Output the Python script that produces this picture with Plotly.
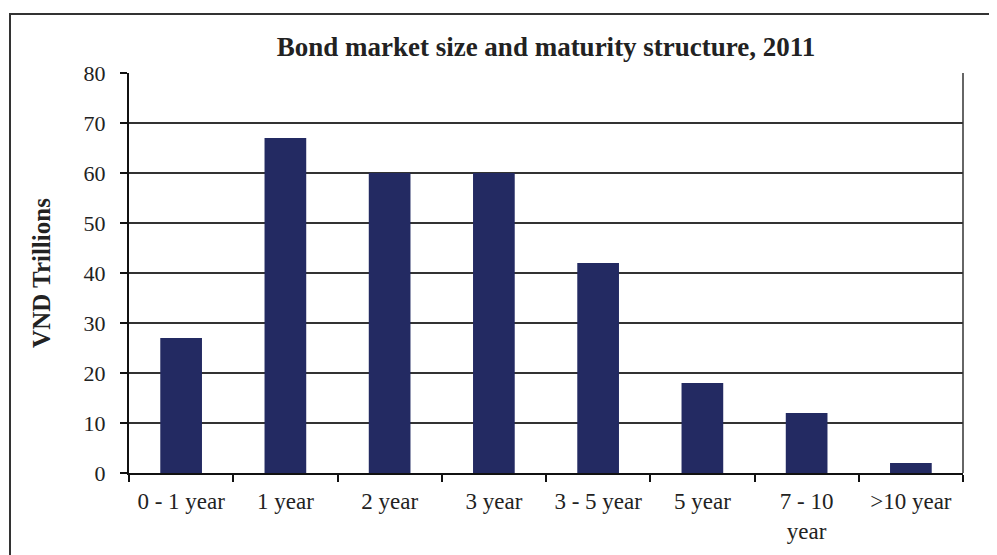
import plotly.graph_objects as go

categories = ["0 - 1 year", "1 year", "2 year", "3 year", "3 - 5 year", "5 year", "7 - 10<br>year", ">10 year"]
values = [27, 67, 60, 60, 42, 18, 12, 2]
y_ticks = [0, 10, 20, 30, 40, 50, 60, 70, 80]

# page has an 8px body margin, so the figure is drawn from (8, 8)
OFF = 8
W, H = 997 - OFF, 555 - OFF
L, R, T, B = 129 - OFF, 34, 73 - OFF, 82
pw, ph = W - L - R, H - T - B

font = "Liberation Serif, Times New Roman, serif"
col = "#222222"

fig = go.Figure(go.Bar(
    x=categories, y=values, width=0.4,
    marker=dict(color="#232A62", line=dict(width=0)),
))

fig.update_layout(
    width=W, height=H,
    margin=dict(l=L, r=R, t=T, b=B),
    paper_bgcolor="white", plot_bgcolor="white",
    font=dict(family=font, size=22, color=col),
    showlegend=False,
    title=dict(
        text="<b>Bond market size and maturity structure, 2011</b>",
        x=(L + pw / 2) / W, xanchor="center",
        y=1 - (47 - OFF) / H, yanchor="middle",
        font=dict(family=font, size=27, color=col),
    ),
)

fig.update_xaxes(
    type="category",
    showline=True, linecolor="#111111", linewidth=2,
    ticks="outside", ticklen=7, tickwidth=2, tickcolor="#111111",
    tickson="boundaries", showgrid=False,
    tickfont=dict(family=font, size=23, color=col),
    ticklabelstandoff=6,
)

fig.update_yaxes(
    range=[0, 80], tickvals=y_ticks,
    showline=True, linecolor="#111111", linewidth=2,
    ticks="outside", ticklen=7, tickwidth=2, tickcolor="#111111",
    showgrid=True, gridcolor="#333333", gridwidth=1.5,
    zeroline=False,
    tickfont=dict(family=font, size=22, color=col),
    ticklabelstandoff=10,
    title=dict(text="<b>VND Trillions</b>", standoff=26,
               font=dict(family=font, size=25, color=col)),
)

# right frame edge of plot area
fig.add_shape(type="line", xref="paper", yref="paper", x0=1, x1=1, y0=0, y1=1,
              line=dict(color="#666666", width=2), layer="below")

# outer chart border (extends past right/bottom of picture)
fig.add_shape(type="rect", xref="paper", yref="paper",
              x0=(10 - OFF - L) / pw, x1=(W + 20 - L) / pw,
              y0=-(H + 20 - T - ph) / ph, y1=(ph + T - (14 - OFF)) / ph,
              line=dict(color="#333333", width=2), fillcolor="rgba(0,0,0,0)")

fig.write_html("out.html")
